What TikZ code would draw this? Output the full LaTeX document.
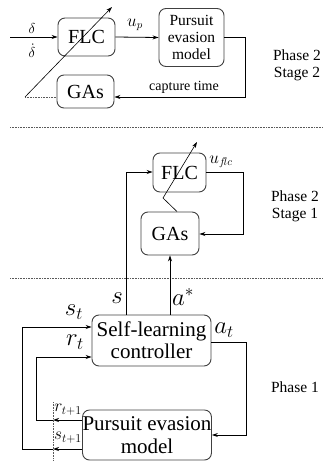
\documentclass[tikz,border=0pt]{standalone}
\usepackage{fontspec}
\setmainfont{Liberation Serif}
\usetikzlibrary{arrows.meta}

\begin{document}
\begin{tikzpicture}[x=1pt, y=-1pt,
  box/.style={draw=black!75, line width=0.9pt, rounded corners=7pt, align=center, inner sep=0pt},
  arr/.style={-{Stealth[length=6pt,width=4pt]}, line width=0.8pt},
  sep/.style={black!65, line width=0.7pt, dash pattern=on 0.9pt off 0.7pt},
  big/.style={font=\fontsize{20}{22}\selectfont},
  mid/.style={font=\fontsize{15.5}{17}\selectfont},
  lbl/.style={font=\fontsize{14}{16}\selectfont, inner sep=0pt}]
\useasboundingbox (0,0) rectangle (323,461);

% Phase 2 - Stage 2
\node[box, big, minimum width=57pt, minimum height=38pt] (flcTop) at (86.5,37) {FLC};
\node[box, mid, minimum width=65pt, minimum height=58pt] (peTop) at (191.5,37.5) {Pursuit\\evasion\\model};
\node[box, big, minimum width=57pt, minimum height=33pt] (gasTop) at (85.5,91.5) {GAs};
\coordinate (inTop) at (10,37);
\coordinate (tuneTop) at (25,97);
\coordinate (tipTop) at (112,7);
\coordinate (capC) at (245,97);
\draw[arr] (inTop) -- (flcTop.west);
\draw[arr] (flcTop.east) -- (peTop.west);
\draw[arr] (peTop.east) -| (capC) -- (gasTop.east |- capC);
\draw[sep] (tuneTop) -- (gasTop.west |- tuneTop);
\draw[arr, line width=0.6pt] (tuneTop) -- (tipTop);
\node[lbl, font=\fontsize{15}{17}\selectfont] (dLbl) at (32,28) {$\delta$};
\node[lbl, font=\fontsize{15}{17}\selectfont] (ddLbl) at (32,51) {$\dot{\delta}$};
\node[lbl, font=\fontsize{16}{18}\selectfont] (upLbl) at (135,25) {$u_p$};
\node[lbl] (capLbl) at (184,87) {capture time};
\node[mid, align=center] (ph2s2) at (297,65.5) {Phase 2\\Stage 2};

\draw[sep] (10,127) -- (323,127);

% Phase 2 - Stage 1
\node[box, big, minimum width=53pt, minimum height=39pt] (flcMid) at (179.5,172.5) {FLC};
\node[box, big, minimum width=58pt, minimum height=43pt] (gasMid) at (170,233.5) {GAs};
\coordinate (kinkMid) at (163,198);
\coordinate (tipMid) at (197,142);
\coordinate (flcC) at (243,234);
\draw[arr, line width=0.6pt] ([xshift=7pt]gasMid.north) -- (kinkMid) -- (tipMid);
\draw[arr] (flcMid.east) -| (flcC) -- (gasMid.east |- flcC);
\node[lbl, font=\fontsize{16}{18}\selectfont] (uflcLbl) at (221,162) {$u_{f\!lc}$};
\node[mid, align=center] (ph2s1) at (295,206) {Phase 2\\Stage 1};

\draw[sep] (10,278) -- (323,278);

% Phase 1
\node[box, font=\fontsize{21}{22}\selectfont, minimum width=119pt, minimum height=51pt] (slc) at (151.5,340.5) {Self-learning\\controller};
\node[box, font=\fontsize{21}{23}\selectfont, minimum width=128pt, minimum height=50pt] (peBot) at (147,435) {Pursuit evasion\\model};
\coordinate (sUp) at (126,172);
\coordinate (sLoopB) at (22,449);
\coordinate (sLoopT) at (22,327);
\coordinate (rLoopB) at (36,420);
\coordinate (rLoopT) at (36,357);
\coordinate (cutS) at (53,449);
\coordinate (cutR) at (53,420);
\coordinate (cutTop) at (53,402);
\coordinate (cutBot) at (53,461);
\coordinate (atR) at (246,342);
\coordinate (atC) at (246,435);
\draw[arr] (slc.north -| sUp) -- (sUp) -- (flcMid.west |- sUp);
\draw[arr] (slc.north -| gasMid.south) -- (gasMid.south);
\draw[arr] (slc.east |- atR) -- (atR) -- (atC) -- (peBot.east |- atC);
\draw[arr] (peBot.west |- cutR) -- (cutR);
\draw[arr] (cutR) -- (rLoopB) -- (rLoopT) -- (slc.west |- rLoopT);
\draw[arr] (peBot.west |- cutS) -- (cutS);
\draw[arr] (cutS) -- (sLoopB) -- (sLoopT) -- (slc.west |- sLoopT);
\draw[sep] (cutTop) -- (cutBot);
\node[lbl, font=\fontsize{24}{26}\selectfont] (sLbl) at (117,298) {$s$};
\node[lbl, font=\fontsize{24}{26}\selectfont] (aLbl) at (183,297) {$a^{*}$};
\node[lbl, font=\fontsize{23}{25}\selectfont] (stLbl) at (74,312) {$s_t$};
\node[lbl, font=\fontsize{23}{25}\selectfont] (rtLbl) at (75,342) {$r_t$};
\node[lbl, font=\fontsize{23}{25}\selectfont] (atLbl) at (224,330) {$a_t$};
\node[lbl, font=\fontsize{18}{20}\selectfont] (rt1Lbl) at (68,410) {$r_{t+1}$};
\node[lbl, font=\fontsize{18}{20}\selectfont] (st1Lbl) at (68,438) {$s_{t+1}$};
\node[mid] (ph1) at (295,387) {Phase 1};

\end{tikzpicture}
\end{document}
